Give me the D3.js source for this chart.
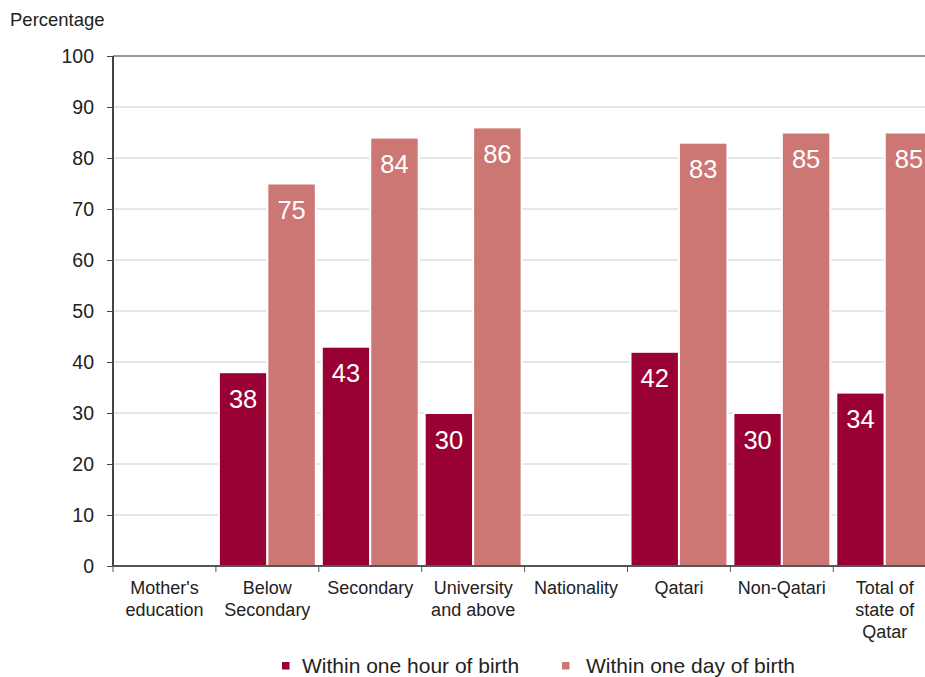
<!DOCTYPE html>
<html>
<head>
<meta charset="utf-8">
<script src="https://cdn.jsdelivr.net/npm/d3@7"></script>
<style>
  html, body { margin: 0; padding: 0; background: #fff; overflow: hidden; }
  svg { display: block; font-family: "Liberation Sans", Arial, sans-serif; }
</style>
</head>
<body>
<svg id="chart" width="925" height="677"></svg>
<script>
// Categories along the x axis (group headings carry no bars)
const categories = [
  "Mother's education", "Below Secondary", "Secondary", "University and above",
  "Nationality", "Qatari", "Non-Qatari", "Total of state of Qatar"
];
// Multi-line labels for the category axis
const categoryLines = [
  ["Mother's", "education"], ["Below", "Secondary"], ["Secondary"], ["University", "and above"],
  ["Nationality"], ["Qatari"], ["Non-Qatari"], ["Total of", "state of", "Qatar"]
];
const seriesNames = ["Within one hour of birth", "Within one day of birth"];
const withinHour = [null, 38, 43, 30, null, 42, 30, 34];
const withinDay  = [null, 75, 84, 86, null, 83, 85, 85];
const yTicks = [0, 10, 20, 30, 40, 50, 60, 70, 80, 90, 100];
const colors = ["#990033", "#cd7774"];

const svg = d3.select("#chart");
const plotLeft = 113, plotTop = 56, plotBottom = 566;
const bandW = 102.9;

const x0 = d3.scaleBand().domain(categories)
  .range([plotLeft, plotLeft + bandW * categories.length]).paddingInner(0).paddingOuter(0);
const x1 = d3.scaleBand().domain(seriesNames)
  .range([3, x0.bandwidth() - 3]).paddingInner(0);
const y = d3.scaleLinear().domain([0, 100]).range([plotBottom, plotTop]);

// Gridlines
svg.append("g")
  .selectAll("line").data(yTicks.filter(d => d > 0 && d < 100)).join("line")
  .attr("x1", plotLeft).attr("x2", 925)
  .attr("y1", d => y(d)).attr("y2", d => y(d))
  .attr("stroke", "#cccccc").attr("stroke-width", 1);
// Top frame line
svg.append("line")
  .attr("x1", plotLeft).attr("x2", 925).attr("y1", y(100)).attr("y2", y(100))
  .attr("stroke", "#999999").attr("stroke-width", 2);

// Bars
const rows = categories.map((c, i) => ({ cat: c, vals: [withinHour[i], withinDay[i]] }));
const groups = svg.append("g").selectAll("g").data(rows).join("g")
  .attr("transform", d => `translate(${x0(d.cat)},0)`);
const bars = groups.selectAll("g.bar")
  .data(d => d.vals.map((v, j) => ({ v, j })).filter(e => e.v != null))
  .join("g").attr("class", "bar");
bars.append("rect")
  .attr("x", d => x1(seriesNames[d.j]))
  .attr("width", x1.bandwidth())
  .attr("y", d => y(d.v))
  .attr("height", d => plotBottom - y(d.v))
  .attr("fill", d => colors[d.j])
  .attr("stroke", "#ffffff").attr("stroke-width", 2);
bars.append("text")
  .attr("x", d => x1(seriesNames[d.j]) + x1.bandwidth() / 2)
  .attr("y", d => y(d.v) + 35.5)
  .attr("text-anchor", "middle")
  .attr("fill", "#ffffff")
  .attr("font-size", 25.5)
  .text(d => d.v);

// Y axis
const yAxis = d3.axisLeft(y).tickValues(yTicks).tickSize(6).tickPadding(13);
const gy = svg.append("g").attr("transform", `translate(${plotLeft},0)`).call(yAxis);
gy.select(".domain").attr("stroke", "#444").attr("stroke-width", 2).attr("d", `M0,${plotTop}V${plotBottom}`);
gy.selectAll(".tick line").attr("stroke", "#444");
gy.selectAll(".tick text").attr("font-size", 19.5).attr("fill", "#222")
  .attr("font-family", "Liberation Sans, Arial, sans-serif");

// X axis with boundary ticks between categories
svg.append("line").attr("x1", plotLeft).attr("x2", 925).attr("y1", plotBottom).attr("y2", plotBottom)
  .attr("stroke", "#555").attr("stroke-width", 2);
svg.append("g").selectAll("line").data(categories).join("line")
  .attr("x1", d => x0(d)).attr("x2", d => x0(d))
  .attr("y1", plotBottom).attr("y2", plotBottom + 6)
  .attr("stroke", "#555").attr("stroke-width", 1);

const xl = svg.append("g").selectAll("text").data(categories).join("text")
  .attr("text-anchor", "middle")
  .attr("font-size", 18).attr("fill", "#222")
  .attr("transform", d => `translate(${x0(d) + x0.bandwidth() / 2},593.5)`);
xl.selectAll("tspan").data((d, i) => categoryLines[i]).join("tspan")
  .attr("x", 0).attr("dy", (d, i) => i === 0 ? 0 : 22.3).text(d => d);

// Y axis title
svg.append("text").attr("x", 10).attr("y", 26)
  .attr("font-size", 18.5).attr("fill", "#222").text("Percentage");

// Legend
const legendX = [282, 562];
const lg = svg.append("g").selectAll("g").data(seriesNames).join("g")
  .attr("transform", (d, i) => `translate(${legendX[i]},662)`);
lg.append("rect").attr("x", 0).attr("y", 0).attr("width", 7.5).attr("height", 7.5)
  .attr("fill", (d, i) => colors[i]);
lg.append("text").attr("x", (d, i) => i === 0 ? 20 : 24).attr("y", 10.7)
  .attr("font-size", 21).attr("fill", "#222").text(d => d);
</script>
</body>
</html>
